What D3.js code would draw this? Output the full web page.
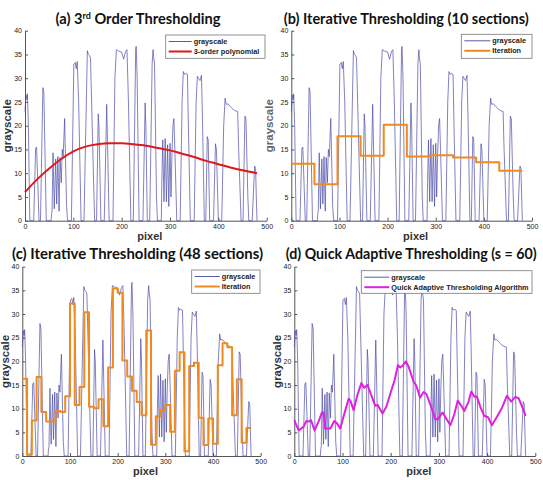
<!DOCTYPE html>
<html>
<head>
<meta charset="utf-8">
<script src="https://cdn.jsdelivr.net/npm/d3@7"></script>
<style>body{margin:0;background:#fff}</style>
</head>
<body>
<script>
// grayscale profile along the scan line, [pixel, grayscale] (same in all panels)
const grayscale = [
  [0,23],[2,26.5],[4,25.5],[5,26.7],[7,20],[10,0],[18,0],[22,15.3],[24,15.5],[29,0],[32,0],
  [37,28],[39,27],[44,0],[54,0],[55,1.5],[56,2],[58,14.3],[60.5,2.5],[63.5,13],[65.5,3.5],
  [68,13.5],[70.5,2],[72.5,13.3],[75,8],[77,15],[79,13.5],[82,21.5],[86,3],[88,0],[96,0],
  [101,33],[104,33.3],[106,32],[108,33.5],[111,25],[116,0],[122,0],[129,35.8],[131,35],
  [134,34.7],[135.5,34.2],[139,20],[144,0],[148,0],[151.5,22.5],[153,20],[157,0],[164,0],
  [169,24.5],[170,20],[174,0],[182,0],[186,30],[189,36],[194,35.7],[200,35.5],[204,34],
  [208,35.6],[211,36],[214,25],[219,0],[224,0],[229,36],[230,36.7],[232,30],[236,0],[244,0],
  [248.5,24.8],[250,20],[253,0],[258,0],[263,33],[265,36],[266,34.5],[268,33],[272,5],[274,0],
  [282,0],[283,8],[285,17],[287.5,4],[290,17.3],[292.5,4],[295,16],[297.5,3],[300,16.3],
  [302,5],[304,14],[306,20],[308,21.5],[310,15],[314,0],[321,0],[325,25],[327.5,31.4],
  [330,30.8],[332,31],[336,30.8],[338,20],[342,0],[350,0],[354,25],[356.5,30.4],[360,29.8],
  [362,29.5],[365,30.6],[367,22],[371,0],[374,0],[377,17.7],[379,17],[382,0],[390,0],
  [394,16.2],[396,15],[400,0],[407,0],[411,20],[414,25.8],[416,24.5],[420,24.6],[425,24],
  [430,23.5],[434,23.2],[440,23],[442,15],[447,0],[451,0],[455,22],[457,21.5],[461,5],
  [463,0],[470,0],[475,11.5],[477,11],[479,3],[480,0]
];

// (a) 3-order polynomial threshold, read at sample pixels
const polyFit = [
  [0,6],[25,8.7],[50,11],[75,13],[100,14.6],[125,15.6],[150,16.1],[175,16.3],[200,16.3],
  [225,16.1],[250,15.8],[275,15.3],[300,14.8],[325,14.1],[350,13.4],[375,12.6],[400,11.9],
  [425,11.2],[450,10.6],[480,10.0]
];

// (b) iteration threshold, 10 sections of 48 px
const iter10 = [12.0, 7.7, 17.8, 13.7, 20.2, 13.5, 13.8, 13.3, 12.3, 10.5];

// (c) iteration threshold, 48 sections of 10 px
const iter48 = [
  16.3, 0.3, 7.5, 16.7, 9.3, 7.3, 7.3, 9.5, 9.3, 12.6,
  32.2, 10.8, 14.6, 30.4, 10.4, 10.1, 12.0, 6.3, 18.7, 35.4,
  34.5, 20.2, 16.8, 13.8, 11.4, 8.6, 26.5, 2.4, 8.4, 9.7,
  10.8, 5.1, 18.0, 21.9, 1.0, 19.0, 19.7, 8.1, 2.3, 7.9,
  2.6, 19.2, 23.8, 23.0, 8.6, 16.2, 2.8, 5.9
];

// (d) quick adaptive threshold (s = 60), [pixel, grayscale]
const quickAdaptive = [
  [0,7.6],[9,5.4],[19.4,6.2],[25,7.4],[31,7.3],[34.6,7.6],[42,5.4],[50.5,7.3],[57.4,9.2],
  [61,9.2],[64,5.8],[74.7,5.8],[83,7.4],[88.5,6.9],[95.4,5.8],[102,8.3],[112.7,12.1],
  [116,11.8],[123,9.7],[131,12.9],[139,15.4],[145,14.4],[152,15],[161,12.5],[168,10.6],
  [173,10.8],[183,9],[191,10.4],[199,13.1],[208,16],[215,19.2],[220,18.7],[225.5,19.2],
  [231.7,20],[237,18.9],[247.6,15.7],[253,14.9],[261,12.3],[268,13.5],[274,13.1],[284,10.4],
  [292.5,7.8],[297,7.7],[307.7,9.2],[313,8.3],[323.7,6.5],[332,8.8],[339,11.7],[346.5,10.6],
  [352.7,9.5],[361.7,11.5],[367,13.6],[374,12.5],[379,12.5],[386,10.4],[394,8.5],[402,8.2],
  [410,6.5],[420.5,8.3],[431,10.2],[441,12.7],[450,11.5],[458.5,12.5],[465.4,12.2],
  [472,10.6],[480,8.5]
];

const xTicks = [0, 100, 200, 300, 400, 500];
const yTicks = [0, 5, 10, 15, 20, 25, 30, 35, 40];

// step series -> points for curveStepAfter
function steps(vals, width) {
  const pts = vals.map((v, i) => [i * width, v]);
  pts.push([vals.length * width, vals[vals.length - 1]]);
  return pts;
}

const svg = d3.select('body').append('svg')
    .attr('width', 543)
    .attr('height', 480)
    .style('font-family', '"Liberation Sans", Arial, sans-serif');

svg.append('rect').attr('width', 543).attr('height', 480).attr('fill', '#fff');

const grayColor = '#4646a8';

function drawPanel(p) {
  const g = svg.append('g');
  const x = d3.scaleLinear().domain([0, 500]).range([p.left, p.right]);
  const y = d3.scaleLinear().domain([0, 40]).range([p.bottom, p.top]);

  // axes
  const ax = g.append('g')
      .attr('transform', 'translate(0,' + p.bottom + ')')
      .call(d3.axisBottom(x).tickValues(xTicks).tickSizeInner(-3).tickSizeOuter(0).tickPadding(3));
  const ay = g.append('g')
      .attr('transform', 'translate(' + p.left + ',0)')
      .call(d3.axisLeft(y).tickValues(yTicks).tickSizeInner(-3).tickSizeOuter(0).tickPadding(3));
  [ax, ay].forEach(a => {
    a.select('.domain').attr('stroke', '#555');
    a.selectAll('.tick line').attr('stroke', '#555');
    a.selectAll('.tick text').attr('font-size', 7).attr('fill', '#222')
      .attr('font-family', '"Liberation Sans", Arial, sans-serif');
  });

  // grayscale profile
  g.append('path')
      .datum(grayscale)
      .attr('fill', 'none')
      .attr('stroke', grayColor)
      .attr('stroke-width', 0.8)
      .attr('stroke-opacity', 0.85)
      .attr('d', d3.line().x(d => x(d[0])).y(d => y(d[1])));

  // threshold series
  g.append('path')
      .datum(p.series)
      .attr('fill', 'none')
      .attr('stroke', p.color)
      .attr('stroke-width', 2)
      .attr('stroke-linejoin', 'round')
      .attr('d', d3.line().x(d => x(d[0])).y(d => y(d[1])).curve(p.curve));

  // axis labels
  g.append('text')
      .attr('x', (p.left + p.right) / 2 + 4)
      .attr('y', p.bottom + 19)
      .attr('text-anchor', 'middle')
      .attr('font-size', 11)
      .attr('font-weight', 'bold')
      .attr('fill', '#333')
      .text('pixel');
  g.append('text')
      .attr('transform', 'translate(' + p.ylabX + ',' + ((p.top + p.bottom) / 2) + ') rotate(-90)')
      .attr('text-anchor', 'middle')
      .attr('font-size', 11.5)
      .attr('font-weight', 'bold')
      .attr('fill', p.ylabColor || '#333')
      .text('grayscale');

  // title
  const t = g.append('text')
      .attr('x', p.titleX)
      .attr('y', p.titleY)
      .attr('text-anchor', 'middle')
      .attr('font-family', 'Lato, "Open Sans", sans-serif')
      .attr('font-size', 14.6)
      .attr('font-weight', 'bold')
      .attr('fill', '#111')
      .attr('textLength', p.titleW)
      .attr('lengthAdjust', 'spacingAndGlyphs');
  p.title.forEach(part => {
    const s = t.append('tspan').text(part.text);
    if (part.sup) s.attr('dy', -5).attr('font-size', 9);
    else if (part.after) s.attr('dy', 5);
  });

  // legend
  const L = p.legend;
  g.append('rect')
      .attr('x', L.x).attr('y', L.y)
      .attr('width', L.w).attr('height', L.h)
      .attr('fill', '#fff')
      .attr('stroke', '#777')
      .attr('stroke-width', 0.8);
  const rows = [
    {label: 'grayscale', color: grayColor, width: 0.9},
    {label: p.label, color: p.color, width: 2}
  ];
  rows.forEach((r, i) => {
    const ry = L.y + 6.5 + i * 10;
    g.append('line')
        .attr('x1', L.x + 3).attr('x2', L.x + 3 + L.sample)
        .attr('y1', ry).attr('y2', ry)
        .attr('stroke', r.color).attr('stroke-width', r.width);
    g.append('text')
        .attr('x', L.x + 5 + L.sample)
        .attr('y', ry + 2.6)
        .attr('font-size', 7.3)
        .attr('font-weight', 'bold')
        .attr('fill', '#222')
        .text(r.label);
  });
}

drawPanel({
  left: 25, right: 266.7, top: 30.7, bottom: 220.7, ylabX: 11,
  titleX: 138, titleY: 24, titleW: 165,
  title: [{text: '(a) 3'}, {text: 'rd', sup: true}, {text: ' Order Thresholding', after: true}],
  series: polyFit, curve: d3.curveMonotoneX, color: '#e01818',
  label: '3-order polynomial',
  legend: {x: 165.7, y: 35, w: 99.3, h: 23.3, sample: 23}
});
drawPanel({
  left: 291.3, right: 532, top: 30.7, bottom: 220.7, ylabX: 273, ylabColor: '#666',
  titleX: 406.2, titleY: 24, titleW: 245,
  title: [{text: '(b) Iterative Thresholding (10 sections)'}],
  series: steps(iter10, 48), curve: d3.curveStepAfter, color: '#f08a1e',
  label: 'Iteration',
  legend: {x: 461.3, y: 34.3, w: 70.7, h: 24, sample: 26}
});

// lower half pasted over the top panels
svg.append('rect').attr('x', 0).attr('y', 242).attr('width', 543).attr('height', 238).attr('fill', '#fff');

drawPanel({
  left: 22.3, right: 260.7, top: 266.7, bottom: 456, ylabX: 9,
  titleX: 137.5, titleY: 258.5, titleW: 251,
  title: [{text: '(c) Iterative Thresholding (48 sections)'}],
  series: steps(iter48, 10), curve: d3.curveStepAfter, color: '#f08a1e',
  label: 'Iteration',
  legend: {x: 191.7, y: 270, w: 68.3, h: 23.3, sample: 25}
});
drawPanel({
  left: 294.3, right: 535.3, top: 266.7, bottom: 456, ylabX: 281,
  titleX: 411.2, titleY: 258.5, titleW: 251,
  title: [{text: '(d) Quick Adaptive Thresholding (s = 60)'}],
  series: quickAdaptive, curve: d3.curveLinear, color: '#e020e0',
  label: 'Quick Adaptive Thresholding Algorithm',
  legend: {x: 361.3, y: 270.7, w: 170.7, h: 22.6, sample: 25}
});
</script>
</body>
</html>
